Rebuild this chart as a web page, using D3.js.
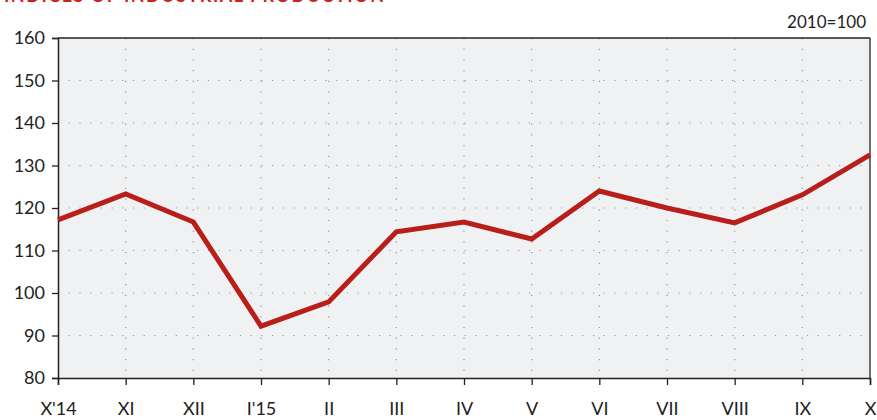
<!DOCTYPE html>
<html><head><meta charset="utf-8">
<script src="https://cdn.jsdelivr.net/npm/d3@7"></script>
<style>body{margin:0;background:#fff}svg{display:block}</style>
</head><body>
<svg id="c" width="877" height="420"></svg>
<script>
const months = ["X'14","XI","XII","I'15","II","III","IV","V","VI","VII","VIII","IX","X"];
const values = [117.2,123.3,116.7,92.2,97.9,114.4,116.7,112.7,124.0,120.0,116.5,123.1,132.5];
const yTicks = [80,90,100,110,120,130,140,150,160];
const title = "INDICES OF INDUSTRIAL PRODUCTION";
const unit = "2010=100";

const svg = d3.select("#c");
const L=58, R=870, T=38, B=378;
const x = d3.scalePoint().domain(months).range([L,R]);
const y = d3.scaleLinear().domain([80,160]).range([B,T]);
const font = "Lato, 'Open Sans', 'DejaVu Sans', sans-serif";

svg.append("text").attr("x",4).attr("y",2).attr("fill","#d0201c")
  .attr("font-family",font).attr("font-weight","bold").attr("font-size",18)
  .attr("letter-spacing",1.5).text(title);
svg.append("text").attr("x",866).attr("y",28).attr("text-anchor","end")
  .attr("font-family",font).attr("font-size",17).attr("fill","#222").text(unit);

svg.append("rect").attr("x",L).attr("y",T).attr("width",R-L).attr("height",B-T).attr("fill","#f0f1f3");

// grid
svg.append("g").selectAll("line").data(yTicks.slice(1,-1)).join("line")
  .attr("x1",L).attr("x2",R).attr("y1",d=>y(d)).attr("y2",d=>y(d))
  .attr("stroke","#999").attr("stroke-width",1.2).attr("stroke-dasharray","1.2,9.5");
svg.append("g").selectAll("line").data(months.slice(1,-1)).join("line")
  .attr("x1",d=>x(d)).attr("x2",d=>x(d)).attr("y1",T).attr("y2",B)
  .attr("stroke","#999").attr("stroke-width",1.2).attr("stroke-dasharray","1.2,9.5");

// frame
svg.append("line").attr("x1",L).attr("x2",R).attr("y1",T).attr("y2",T).attr("stroke","#222").attr("stroke-width",1.3);
svg.append("line").attr("x1",R).attr("x2",R).attr("y1",T).attr("y2",B).attr("stroke","#222").attr("stroke-width",1.3);

const ya = svg.append("g").attr("transform",`translate(${L},0)`)
  .call(d3.axisLeft(y).tickValues(yTicks).tickSize(6).tickPadding(7));
const xa = svg.append("g").attr("transform",`translate(0,${B})`)
  .call(d3.axisBottom(x).tickSize(7).tickPadding(17));
[ya,xa].forEach(g=>{
  g.select(".domain").attr("stroke","#222").attr("stroke-width",1.5);
  g.selectAll(".tick line").attr("stroke","#222").attr("stroke-width",1.3);
  g.selectAll("text").attr("font-family",font).attr("font-size",18).attr("fill","#222");
});

svg.append("path").datum(values)
  .attr("d",d3.line().x((d,i)=>x(months[i])).y(d=>y(d)))
  .attr("fill","none").attr("stroke","#b81e1a").attr("stroke-width",5).attr("stroke-linejoin","miter");
</script>
</body></html>
